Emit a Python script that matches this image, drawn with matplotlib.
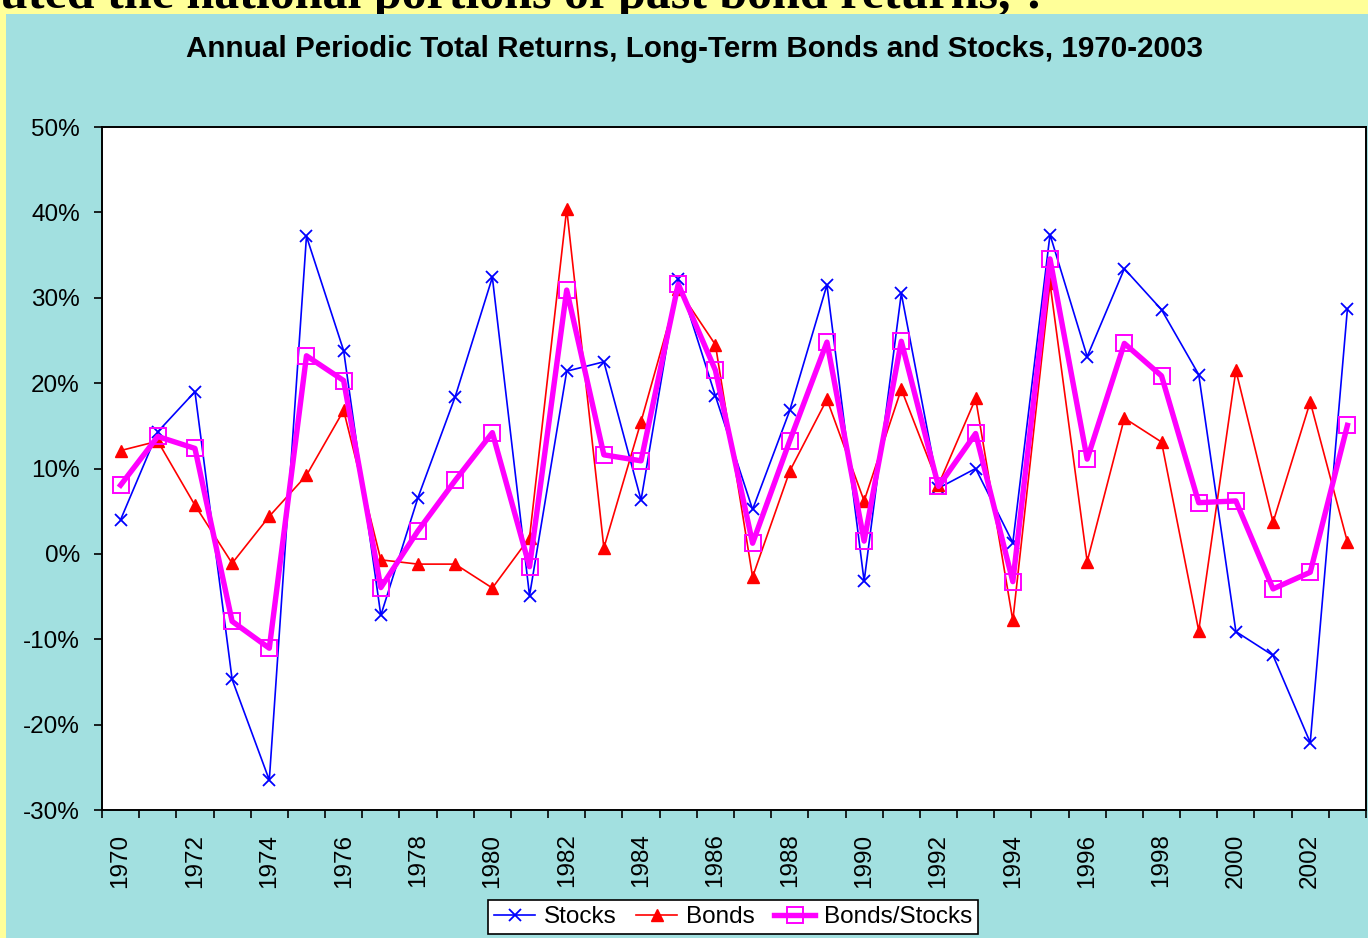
import matplotlib
matplotlib.use("Agg")
import matplotlib.pyplot as plt
from matplotlib.patches import Rectangle
from matplotlib.ticker import FixedLocator, NullFormatter, FixedFormatter

years = list(range(1970, 2004))
stocks = [4.0, 14.3, 19.0, -14.7, -26.5, 37.2, 23.8, -7.2, 6.6, 18.4,
          32.4, -4.9, 21.4, 22.5, 6.3, 32.2, 18.5, 5.2, 16.8, 31.5,
          -3.2, 30.5, 7.7, 10.0, 1.3, 37.4, 23.1, 33.4, 28.6, 21.0,
          -9.1, -11.9, -22.1, 28.7]
bonds = [12.1, 13.2, 5.7, -1.1, 4.4, 9.2, 16.8, -0.7, -1.2, -1.2,
         -4.0, 1.9, 40.4, 0.7, 15.5, 31.0, 24.5, -2.7, 9.7, 18.1,
         6.2, 19.3, 8.1, 18.2, -7.8, 31.7, -0.9, 15.9, 13.1, -9.0,
         21.5, 3.7, 17.8, 1.4]
blend = [8.05, 13.75, 12.35, -7.9, -11.05, 23.2, 20.3, -3.95, 2.7, 8.6,
         14.2, -1.5, 30.9, 11.6, 10.9, 31.6, 21.5, 1.25, 13.25, 24.8,
         1.5, 24.9, 7.9, 14.1, -3.25, 34.55, 11.1, 24.65, 20.85, 6.0,
         6.2, -4.1, -2.15, 15.05]
y_ticks = [-30, -20, -10, 0, 10, 20, 30, 40, 50]
title = "Annual Periodic Total Returns, Long-Term Bonds and Stocks, 1970-2003"

W, H = 1368, 938
TEAL = "#A2E0E0"
YELLOW = "#FFFF99"

fig = plt.figure(figsize=(W / 100, H / 100), dpi=100)
fig.patch.set_facecolor(YELLOW)
# teal panel
fig.patches.append(Rectangle((6 / W, 0), 1 - 6 / W, 1 - 14 / H,
                             transform=fig.transFigure, facecolor=TEAL,
                             edgecolor="none", zorder=-10))
# cut-off slide text at the very top (only its lower edge shows)
fig.text(0.0, 1 - 8 / H, "uted the national portions of past bond returns, ?",
         fontsize=36, fontweight="bold", family="Liberation Serif",
         color="black", ha="left", va="baseline", zorder=-15)

ax = fig.add_axes([102 / W, (H - 810) / H, (1366 - 102) / W, (810 - 127) / H])
ax.set_zorder(1)
ax.set_facecolor("white")
x = list(range(len(years)))

ax.plot(x, stocks, color="#0000FF", lw=1.2, marker="x", ms=8, mew=1.3,
        label="Stocks", zorder=3)
ax.plot(x, bonds, color="#FF0000", lw=1.2, marker="^", ms=8,
        mfc="#FF0000", mec="#FF0000", label="Bonds", zorder=4)
ax.plot(x, blend, color="#FF00FF", lw=3.9, marker="s", ms=12,
        mfc="none", mec="#FF00FF", mew=1.4, label="Bonds/Stocks", zorder=5)

ax.set_xlim(-0.5, len(years) - 0.5)
ax.set_ylim(-30, 50)
ax.yaxis.set_major_locator(FixedLocator(y_ticks))
ax.set_yticklabels([f"{v}%" for v in y_ticks], fontsize=17.5,
                   family="Liberation Sans")
ax.tick_params(axis="y", direction="out", length=6, width=1.2, pad=10,
               colors="black")

ax.xaxis.set_major_locator(FixedLocator([i - 0.5 for i in range(len(years) + 1)]))
ax.xaxis.set_major_formatter(NullFormatter())
label_pos = [i for i in x if years[i] % 2 == 0]
ax.xaxis.set_minor_locator(FixedLocator(label_pos))
ax.xaxis.set_minor_formatter(FixedFormatter([str(years[i]) for i in label_pos]))
ax.tick_params(axis="x", which="major", direction="out", length=6, width=1.2)
ax.tick_params(axis="x", which="minor", length=0, pad=17, labelsize=17.5,
               labelrotation=90)
for lbl in ax.get_xticklabels(minor=True):
    lbl.set_family("Liberation Sans")

for s in ax.spines.values():
    s.set_linewidth(1.4)
    s.set_color("black")

fig.text(694 / W, 1 - 49 / H, title, ha="center", va="center",
         fontsize=21.3, fontweight="bold", family="Liberation Sans")

leg = fig.legend(loc="center", bbox_to_anchor=(733 / W, 1 - 917 / H),
                 ncol=3, prop={"family": "Liberation Sans", "size": 17.5},
                 frameon=True, fancybox=False, edgecolor="black",
                 handlelength=1.7, handletextpad=0.35, columnspacing=0.8,
                 borderpad=0.25, borderaxespad=0)
leg.get_frame().set_linewidth(1.2)
leg.get_frame().set_facecolor("white")
leg.get_frame().set_alpha(1)

fig.savefig("out.png", dpi=100, facecolor=fig.get_facecolor())
